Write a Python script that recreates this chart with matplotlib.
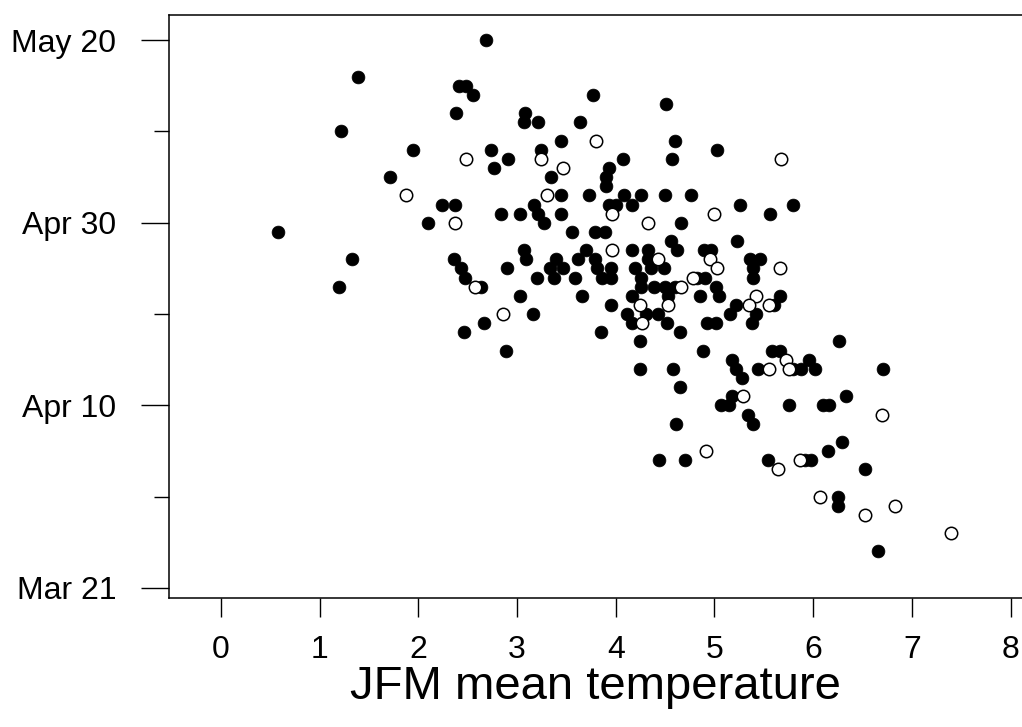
import matplotlib.pyplot as plt

# first-flowering date (days after Mar 21) against JFM mean temperature
filled_temp = [1.39, 1.22, 1.94, 1.71, 2.10, 0.58, 1.33, 1.20, 2.68, 2.41,
               2.48, 2.55, 3.77, 2.38, 3.08, 3.07, 3.21, 3.64, 3.44, 2.74,
               2.91, 3.24, 4.07, 2.77, 3.93, 3.90, 3.34, 3.90, 3.44, 3.73,
               2.24, 2.37, 2.84, 3.03, 3.17, 3.21, 3.27, 3.44, 3.93, 4.00,
               4.08, 3.56, 3.79, 3.89, 2.36, 2.43, 2.47, 2.63, 3.07, 3.09,
               2.90, 3.20, 3.39, 3.33, 3.46, 3.37, 3.59, 3.62, 3.70, 3.79,
               3.81, 3.86, 3.95, 3.95, 4.16, 3.03, 3.66, 3.95, 3.16, 4.11,
               4.51, 4.60, 5.03, 4.57, 4.26, 4.50, 4.76, 4.16, 5.26, 5.80,
               5.56, 4.66, 4.56, 4.62, 5.23, 4.33, 4.33, 4.89, 4.96, 5.36,
               5.46, 5.39, 5.39, 4.19, 4.36, 4.49, 4.26, 4.26, 4.39, 4.50,
               4.60, 4.82, 4.90, 5.02, 5.05, 4.85, 4.16, 4.53, 5.22, 5.66,
               5.60, 4.31, 4.43, 5.16, 5.42, 4.16, 4.52, 4.92, 5.02, 5.38,
               4.65, 4.25, 4.88, 5.58, 5.66, 5.18, 5.96, 4.25, 4.58, 5.22,
               5.44, 5.80, 5.88, 6.02, 5.28, 4.65, 5.18, 5.07, 5.15, 5.75,
               5.34, 5.39, 4.61, 4.44, 4.70, 5.54, 5.92, 5.98, 6.26, 6.71,
               6.33, 6.10, 6.16, 6.29, 6.15, 6.53, 6.25, 6.25, 6.66, 2.66,
               2.46, 2.89, 3.85]
filled_day = [56, 50, 48, 45, 40, 39, 36, 33, 60, 55,
              55, 54, 54, 52, 52, 51, 51, 51, 49, 48,
              47, 48, 47, 46, 46, 45, 45, 44, 43, 43,
              42, 42, 41, 41, 42, 41, 40, 41, 42, 42,
              43, 39, 39, 39, 36, 35, 34, 33, 37, 36,
              35, 34, 36, 35, 35, 34, 34, 36, 37, 36,
              35, 34, 35, 34, 37, 32, 32, 31, 30, 30,
              53, 49, 48, 47, 43, 43, 43, 42, 42, 42,
              41, 40, 38, 37, 38, 37, 36, 37, 37, 36,
              36, 35, 34, 35, 35, 35, 34, 33, 33, 33,
              33, 34, 34, 33, 32, 32, 32, 32, 31, 32,
              31, 30, 30, 30, 30, 29, 29, 29, 29, 29,
              28, 27, 26, 26, 26, 25, 25, 24, 24, 24,
              24, 24, 24, 24, 23, 22, 21, 20, 20, 20,
              19, 18, 18, 14, 14, 14, 14, 14, 27, 24,
              21, 20, 20, 16, 15, 13, 10, 9, 4, 29,
              28, 26, 28]

open_temp = [1.87, 3.80, 2.48, 3.24, 3.47, 3.30, 2.37, 3.96, 2.57, 3.96,
             2.86, 5.67, 5.00, 4.33, 4.43, 4.95, 5.03, 5.66, 4.66, 4.78,
             4.25, 4.53, 5.42, 5.55, 5.35, 4.27, 5.72, 5.55, 5.75, 5.29,
             4.91, 5.64, 5.87, 6.07, 6.70, 6.53, 6.83, 7.40]
open_day = [43, 49, 47, 47, 46, 43, 40, 41, 33, 37,
            30, 47, 41, 40, 36, 36, 35, 35, 33, 34,
            31, 31, 32, 31, 31, 29, 25, 24, 24, 21,
            15, 13, 14, 10, 19, 8, 9, 6]

date_ticks = [0, 20, 40, 60]
date_labels = ['Mar 21', 'Apr 10', 'Apr 30', 'May 20']
date_minor = [10, 30, 50]
temp_ticks = [0, 1, 2, 3, 4, 5, 6, 7, 8]

plt.rcParams['font.family'] = ['Liberation Sans', 'DejaVu Sans']

fig = plt.figure(figsize=(10.22, 7.27), dpi=100)
ax = fig.add_axes([0.1654, 0.1774, 0.8346, 0.8019])

ax.scatter(filled_temp, filled_day, s=85, c='black', edgecolors='black',
           linewidths=0.5, zorder=2)
ax.scatter(open_temp, open_day, s=80, facecolors='white', edgecolors='black',
           linewidths=1.1, zorder=3)

ax.set_xlim(-0.527, 8.116)
ax.set_ylim(-1.1, 62.75)
ax.spines['right'].set_visible(False)
for s in ['left', 'bottom', 'top']:
    ax.spines[s].set_linewidth(1.1)

ax.set_xticks(temp_ticks)
ax.set_yticks(date_ticks)
ax.set_yticklabels(date_labels)
ax.set_yticks(date_minor, minor=True)
ax.tick_params(axis='y', which='major', length=20, width=1.0, pad=18, labelsize=23)
ax.tick_params(axis='y', which='minor', length=11, width=1.0)
ax.tick_params(axis='x', length=13.5, width=1.0, pad=13, labelsize=23)

ax.set_xlabel('JFM mean temperature', fontsize=34, labelpad=0)

fig.savefig('out.png', dpi=100)
